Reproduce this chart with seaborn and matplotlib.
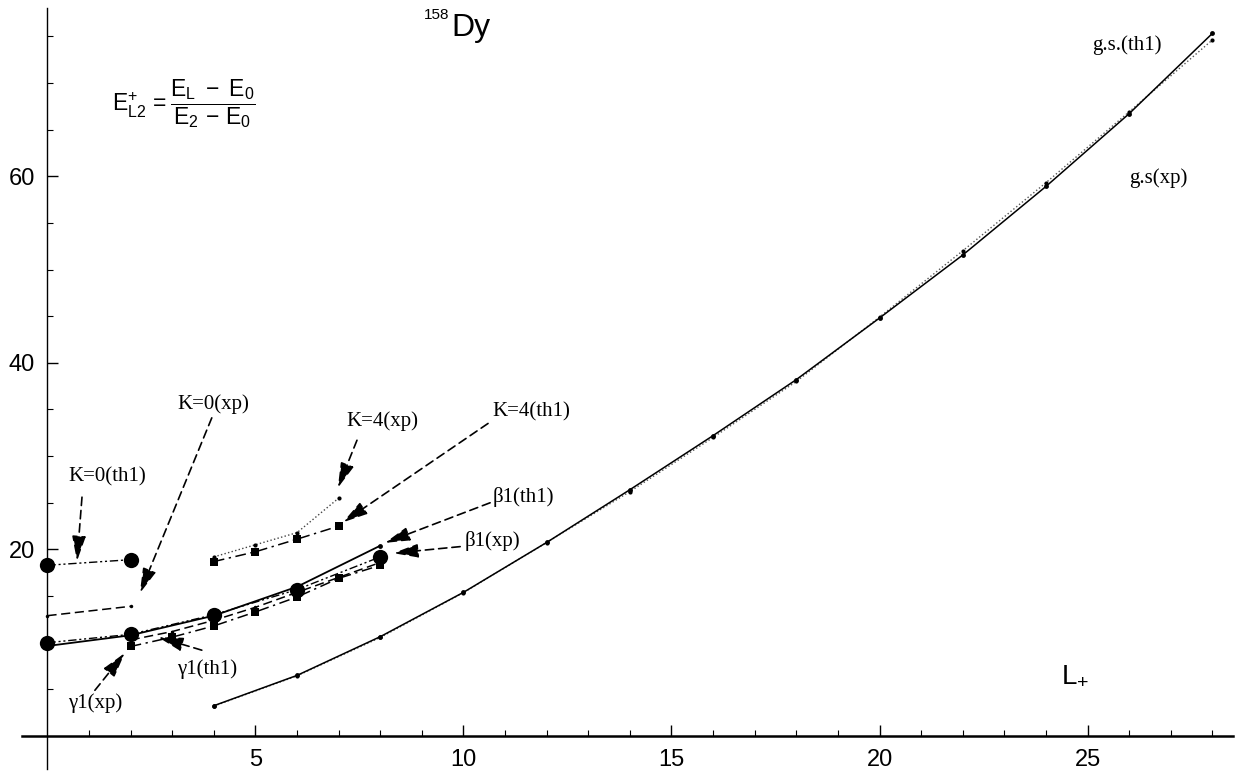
import numpy as np
import pandas as pd
import matplotlib
matplotlib.use("Agg")
import matplotlib.pyplot as plt
import seaborn as sns

# ---------------- data ----------------
L_gs = [4, 6, 8, 10, 12, 14, 16, 18, 20, 22, 24, 26, 28]
gs_th1 = [3.25, 6.5, 10.65, 15.4, 20.75, 26.4, 32.2, 38.2, 44.8, 51.55, 58.9, 66.7, 75.3]
gs_xp = [3.21, 6.45, 10.56, 15.37, 20.74, 26.2, 32.0, 38.0, 44.9, 52.0, 59.3, 66.9, 74.6]

L_beta = [0, 2, 4, 6, 8]
beta_th1 = [9.65, 10.8, 12.9, 16.0, 20.4]
beta_xp = [10.0, 10.9, 13.0, 15.7, 19.2]

L_gamma = [2, 3, 4, 5, 6, 7, 8]
gamma_xp = [9.6, 10.6, 11.8, 13.3, 14.9, 16.9, 18.3]
gamma_th1 = [10.3, 11.2, 12.4, 13.8, 15.4, 17.0, 18.6]

L_k0 = [0, 2]
k0_th1 = [18.3, 18.9]
k0_xp = [12.9, 13.9]

L_k4 = [4, 5, 6, 7]
k4_xp = [19.2, 20.5, 21.8, 25.5]
k4_th1 = [18.7, 19.75, 21.1, 22.5]

x_ticks = [5, 10, 15, 20, 25]
y_ticks = [20, 40, 60]

# ---------------- figure ----------------
sns.set_style("white")
plt.rcParams['font.family'] = ['Liberation Sans', 'DejaVu Sans']
plt.rcParams['mathtext.fontset'] = 'custom'
plt.rcParams['mathtext.rm'] = 'Liberation Sans'
plt.rcParams['mathtext.it'] = 'Liberation Sans'
plt.rcParams['text.color'] = 'black'
plt.rcParams['xtick.color'] = 'black'
plt.rcParams['ytick.color'] = 'black'
plt.rcParams['axes.edgecolor'] = 'black'

fig = plt.figure(figsize=(12.38, 7.72), dpi=100)
ax = fig.add_axes([0.01817, 0.0043, 0.9779, 0.985])
ax.set_xlim(-0.6, 28.5)
ax.set_ylim(-3.5, 78)

def draw(L, vals, ls, marker, ms, color='black', lw=1.1, dashes=None):
    df = pd.DataFrame({'L': L, 'E': vals})
    sns.lineplot(data=df, x='L', y='E', ax=ax, color=color, lw=lw,
                 marker=marker, markersize=ms, markeredgewidth=0,
                 markerfacecolor='black', linestyle=ls, legend=False)
    l = ax.get_lines()[-1]
    if dashes is not None:
        l.set_dashes(dashes)
    return l

# ground state
draw(L_gs, gs_xp, ':', 'o', 3, color='#555555', lw=1.0)
draw(L_gs, gs_th1, '-', 'o', 3.5, lw=1.1)
# beta band
draw(L_beta, beta_th1, '-', 'o', 3.5, lw=1.3)
draw(L_beta, beta_xp, '-', 'o', 11, lw=1.0, dashes=[6, 2, 1.5, 2, 1.5, 2])
# gamma band
draw(L_gamma, gamma_th1, '--', 'o', 2.5, lw=1.1, dashes=[6, 3])
draw(L_gamma, gamma_xp, '-.', 's', 6, lw=1.1, dashes=[7, 3, 1.5, 3])
# K=0 bands
draw(L_k0, k0_th1, '-', 'o', 11, lw=1.0, dashes=[6, 2, 1.5, 2, 1.5, 2])
draw(L_k0, k0_xp, '--', 'o', 2.5, lw=1.1, dashes=[6, 3])
# K=4 bands
draw(L_k4, k4_xp, ':', 'o', 3, color='#444444', lw=1.0)
draw(L_k4, k4_th1, '-.', 's', 6, lw=1.1, dashes=[7, 3, 1.5, 3])

# ---------------- axes styling (Mathematica-like) ----------------
for s in ['top', 'right']:
    ax.spines[s].set_visible(False)
ax.spines['left'].set_position(('data', 0))
ax.spines['bottom'].set_position(('data', 0))
ax.spines['left'].set_linewidth(1.0)
ax.spines['bottom'].set_linewidth(1.8)
ax.set_xticks(x_ticks)
ax.set_yticks(y_ticks)
ax.set_xticks(np.arange(1, 29), minor=True)
ax.set_yticks(np.arange(5, 80, 5), minor=True)
ax.tick_params(axis='both', which='both', bottom=True, left=True,
               top=False, right=False, direction='in', colors='black')
ax.tick_params(axis='both', which='major', length=8, width=1.0,
               labelsize=17, pad=9)
ax.tick_params(axis='both', which='minor', length=4.5, width=0.8)
ax.set_xlabel('')
ax.set_ylabel('')

# ---------------- labels ----------------
serif = ['Liberation Serif', 'DejaVu Serif']
lab_fs = 15
labels = [
    ("K=0(th1)", 1.43, 27.8, 0.83, 25.6, 0.71, 18.75),
    ("K=0(xp)", 3.98, 35.6, 3.95, 34.1, 2.22, 15.3),
    ("K=4(xp)", 8.06, 33.8, 7.44, 31.7, 6.98, 26.6),
    ("K=4(th1)", 11.62, 34.7, 10.59, 33.5, 7.1, 22.9),
    ("β1(th1)", 11.43, 25.6, 10.64, 25.0, 8.11, 20.7),
    ("β1(xp)", 10.69, 20.9, 9.92, 20.3, 8.31, 19.6),
    ("γ1(th1)", 3.83, 7.2, 3.71, 9.2, 2.66, 10.6),
    ("γ1(xp)", 1.14, 3.5, 1.14, 4.9, 1.86, 8.9),
]
for txt, tx, ty, ax0, ay0, ax1, ay1 in labels:
    ax.text(tx, ty, txt, family=serif, fontsize=lab_fs, ha='center', va='center')
    ax.annotate('', xy=(ax1, ay1), xytext=(ax0, ay0),
                arrowprops=dict(arrowstyle='-|>,head_length=1.1,head_width=0.3',
                                linestyle=(0, (5, 3)), color='black', lw=1.2,
                                shrinkA=0, shrinkB=0, mutation_scale=14))

ax.text(25.95, 74.1, "g.s.(th1)", family=serif, fontsize=lab_fs, ha='center', va='center')
ax.text(26.7, 59.8, "g.s(xp)", family=serif, fontsize=lab_fs, ha='center', va='center')

# axis label L+
ax.text(24.7, 6.5, r"L$_{+}$", fontsize=20, ha='center', va='center')

# title 158Dy
ax.text(9.72, 75.9, "Dy", fontsize=23, ha='left', va='center')
ax.text(9.65, 77.3, "158", fontsize=11, ha='right', va='center')

# formula
ax.text(1.55, 67.8,
        r"$\mathrm{E}^{+}_{\mathrm{L2}}\,=\dfrac{\mathrm{E_{L}\ -\ E_{0}}}{\mathrm{E_{2}\,-\,E_{0}}}$",
        fontsize=16.5, ha='left', va='center')

fig.savefig("out.png", dpi=100)
